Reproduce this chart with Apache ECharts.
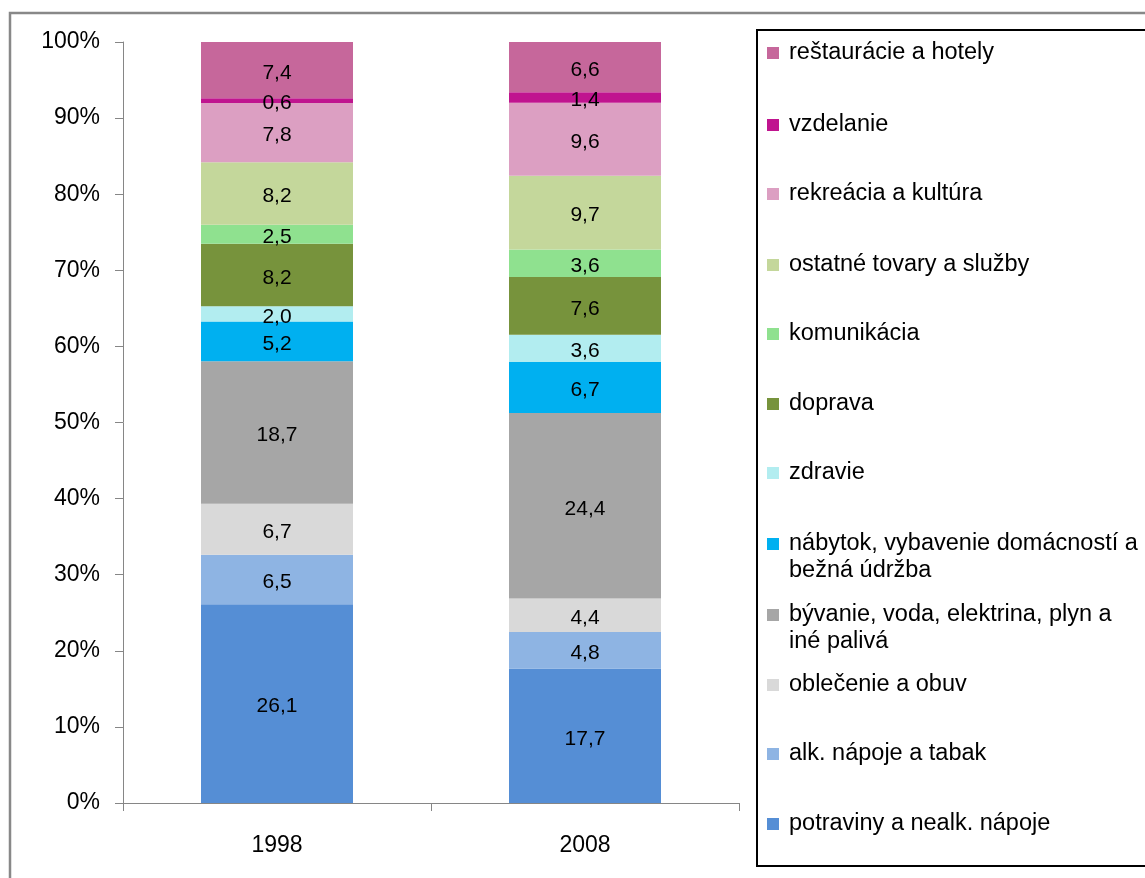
<!DOCTYPE html>
<html lang="sk">
<head>
    <meta charset="UTF-8">
    <title>Štruktúra výdavkov domácností</title>
    <style>
        html, body {margin: 0; padding: 0; background: #fff;}
        #main {width: 1145px; height: 878px;}
    </style>
</head>
<body>
<div id="main"></div>
<script src="https://cdn.jsdelivr.net/npm/echarts@6/dist/echarts.min.js"></script>
<script>
    // roky na osi x
    const years = ['1998', '2008']

    // kategórie zdola nahor (poradie v stĺpci)
    const categories = [
        'potraviny a nealk. nápoje',
        'alk. nápoje a tabak',
        'oblečenie a obuv',
        'bývanie, voda, elektrina, plyn a iné palivá',
        'nábytok, vybavenie domácností a bežná údržba',
        'zdravie',
        'doprava',
        'komunikácia',
        'ostatné tovary a služby',
        'rekreácia a kultúra',
        'vzdelanie',
        'reštaurácie a hotely'
    ]

    // podiely v % (hodnoty zo stĺpcov)
    const values1998 = [26.1, 6.5, 6.7, 18.7, 5.2, 2.0, 8.2, 2.5, 8.2, 7.8, 0.6, 7.4]
    const values2008 = [17.7, 4.8, 4.4, 24.4, 6.7, 3.6, 7.6, 3.6, 9.7, 9.6, 1.4, 6.6]

    const colors = ['#558ED5', '#8EB4E3', '#D9D9D9', '#A6A6A6', '#00B0F0', '#B2EDF0',
        '#77933C', '#8FE18F', '#C4D79B', '#DC9FC2', '#C0148F', '#C6679B']

    // texty legendy (zalomené ako v Exceli, prázdny riadok hore drží značku pri prvom riadku)
    const legendLabels = {
        'nábytok, vybavenie domácností a bežná údržba': '\nnábytok, vybavenie domácností a\nbežná údržba',
        'bývanie, voda, elektrina, plyn a iné palivá': '\nbývanie, voda, elektrina, plyn a\niné palivá'
    }
    // stred značky legendy (y) pre každú kategóriu
    const legendY = [821, 751, 682, 612, 541, 470, 401, 331, 262, 191, 122, 50]

    const font = 'Liberation Sans, Arial, sans-serif'
    const lineH = 27

    const sum = arr => arr.reduce((a, b) => a + b, 0)
    const total1998 = sum(values1998)
    const total2008 = sum(values2008)

    let series = categories.map((name, i) => ({
        name: name,
        type: 'bar',
        stack: 'spolu',
        barWidth: 152,
        itemStyle: {color: colors[i]},
        label: {
            show: true,
            position: 'inside',
            offset: [0, 3],
            color: '#000',
            fontFamily: font,
            fontSize: 21,
            formatter: p => p.data.raw.toFixed(1).replace('.', ',')
        },
        data: [
            {value: values1998[i] / total1998 * 100, raw: values1998[i]},
            {value: values2008[i] / total2008 * 100, raw: values2008[i]}
        ]
    }))

    let legends = categories.map((name, i) => {
        let twoLines = !!legendLabels[name]
        return {
            left: 767,
            top: (twoLines ? legendY[i] - lineH * 1.5 : legendY[i] - lineH / 2) + 3,
            padding: 0,
            itemWidth: 12,
            itemHeight: 12,
            itemGap: 0,
            icon: 'rect',
            selectedMode: false,
            data: [name],
            formatter: n => legendLabels[n] || n,
            textStyle: {
                color: '#000',
                fontFamily: font,
                fontSize: 23.5,
                lineHeight: lineH,
                padding: [0, 0, 0, 5]
            }
        }
    })

    let chart = echarts.init(document.getElementById('main'))
    let option = {
        backgroundColor: '#fff',
        animation: false,
        color: colors,
        grid: {left: 123, right: 406, top: 42, bottom: 75, containLabel: false},
        legend: legends,
        xAxis: {
            type: 'category',
            data: years,
            axisLine: {lineStyle: {color: '#868686', width: 1}},
            axisTick: {show: true, length: 8, lineStyle: {color: '#868686'}},
            axisLabel: {color: '#000', fontFamily: font, fontSize: 23, margin: 31}
        },
        yAxis: {
            type: 'value',
            min: 0,
            max: 100,
            interval: 10,
            axisLine: {show: true, lineStyle: {color: '#868686', width: 1}},
            axisTick: {show: true, length: 8, lineStyle: {color: '#868686'}},
            splitLine: {show: false},
            axisLabel: {color: '#000', fontFamily: font, fontSize: 23, margin: 23, formatter: '{value}%'}
        },
        graphic: [
            {
                type: 'rect',
                shape: {x: 10, y: 13, width: 1300, height: 1000},
                style: {fill: null, stroke: '#888', lineWidth: 2.5},
                silent: true
            },
            {
                type: 'rect',
                shape: {x: 757, y: 30, width: 600, height: 836},
                style: {fill: null, stroke: '#000', lineWidth: 2},
                silent: true
            }
        ],
        series: series
    }
    chart.setOption(option)
</script>
</body>
</html>
